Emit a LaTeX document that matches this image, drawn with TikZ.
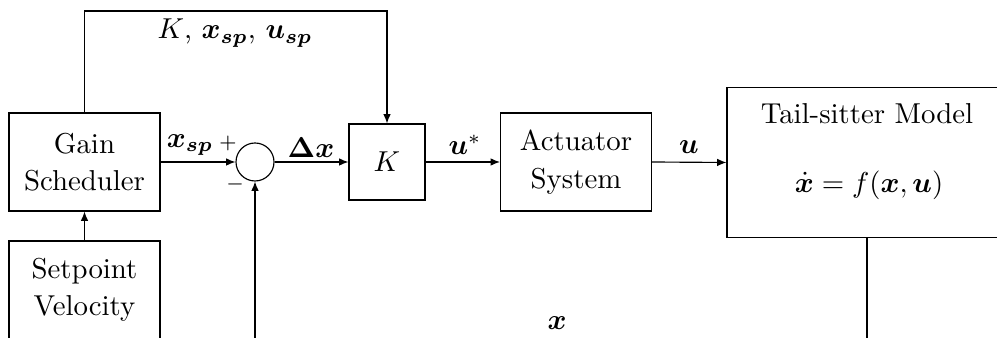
\documentclass[tikz,border=0pt]{standalone}
\usepackage{amsmath,bm}
\usetikzlibrary{arrows.meta}
\begin{document}
\begin{tikzpicture}[x=0.3472pt,y=-0.3472pt,
  blk/.style={draw,line width=0.4pt,inner sep=0pt,align=center,font=\fontsize{10}{13}\selectfont},
  sumc/.style={draw,circle,inner sep=0pt,minimum size=38*0.3472pt},
  arr/.style={-{Latex[length=3.2pt,width=2.6pt]},line width=0.4pt},
  lbl/.style={inner sep=0pt}]
\useasboundingbox (0,0) rectangle (997,338);
\clip (0,0) rectangle (997,338);
% blocks
\node[blk,minimum width=151*0.3472pt,minimum height=98*0.3472pt] (gain) at (84.5,162) {Gain\\Scheduler};
\node[blk,minimum width=151*0.3472pt,minimum height=98*0.3472pt] (setp) at (84.5,290) {Setpoint\\Velocity};
\node[sumc] (sum) at (255,162) {};
\node[blk,minimum width=76*0.3472pt,minimum height=76*0.3472pt] (K) at (387,162) {$K$};
\node[blk,minimum width=151*0.3472pt,minimum height=98*0.3472pt] (act) at (576,162) {Actuator\\System};
\node[blk,minimum width=280*0.3472pt,minimum height=150*0.3472pt] (model) at (867,162.5) {};
\node[lbl] (mtitle) at (867,114) {Tail-sitter Model};
\node[lbl] (meq) at (869,185) {$\dot{\bm{x}} = f(\bm{x},\bm{u})$};
% free ends
\coordinate (top1) at (84.5,11);
\coordinate (top2) at (387,11);
\coordinate (fbin) at (255,345);
\coordinate (fbout) at (867,345);
% connectors
\draw[arr] (setp.north) -- (gain.south);
\draw[arr] (gain.east) -- (sum.west);
\draw[arr] (sum.east) -- (K.west);
\draw[arr] (K.east) -- (act.west);
\draw[arr] (act.east) -- (model.west);
\draw[arr] (gain.north) -- (top1) -- (top2) -- (K.north);
\draw[arr] (fbin) -- (sum.south);
\draw (model.south) -- (fbout);
% labels
\node[lbl] (ltop) at (235,33) {$K$, $\bm{x_{sp}}$, $\bm{u_{sp}}$};
\node[lbl] (lxsp) at (190,145) {$\bm{x_{sp}}$};
\node[lbl,font=\scriptsize] (lplus) at (228,143) {$+$};
\node[lbl,font=\scriptsize] (lminus) at (235,184) {$-$};
\node[lbl] (ldx) at (311,148) {$\bm{\Delta x}$};
\node[lbl] (lus) at (465,145) {$\bm{u}^{*}$};
\node[lbl] (lu) at (689,147) {$\bm{u}$};
\node[lbl] (lx) at (557,323) {$\bm{x}$};
\end{tikzpicture}
\end{document}
